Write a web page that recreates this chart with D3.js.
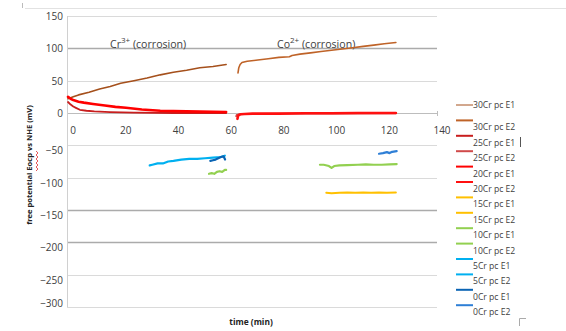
<!DOCTYPE html>
<html><head><meta charset="utf-8">
<script src="https://cdn.jsdelivr.net/npm/d3@7"></script>
<style>
html,body{margin:0;padding:0;background:#fff;}
svg{display:block;font-family:"Open Sans",sans-serif;}
</style></head>
<body>
<svg id="c" width="566" height="331"></svg>
<script>
// ---------------- data ----------------
const seriesNames = ["30Cr pc E1","30Cr pc E2","25Cr pc E1","25Cr pc E2","20Cr pc E1","20Cr pc E2",
  "15Cr pc E1","15Cr pc E2","10Cr pc E1","10Cr pc E2","5Cr pc E1","5Cr pc E2","0Cr pc E1","0Cr pc E2"];
const seriesColors = ["#a5501c","#bf6328","#c81e1e","#d04a4a","#ff0000","#ff1010",
  "#ffc000","#ffc000","#92d050","#92d050","#00b0f0","#00b0f0","#0a64b4","#2e7fd6"];
const xTicks = [0,20,40,60,80,100,120,140];
const yTicks = [150,100,50,0,-50,-100,-150,-200,-250,-300];

const t30E1 = [0,2,4,8,12,16,20,25,30,35,40,45,50,55,60];
const v30E1 = [22,25,28,32,37,41,46,50,54,59,63,66,70,72,75];
const t30E2 = [64.5,64.8,65.3,66,68,72,76,80,84,85,88,92,96,100,104,108,112,116,120,124.4];
const v30E2 = [62,70,75,78,80,82,84,86,87,89,91,93,95,97,99,101,103,105,107,109];
const t25E1 = [0,1,2,3,4.5,7,10,16,25,40,60];
const v25E1 = [17,13,10,8,5,3.5,2.5,1.5,0.5,0,0];
const t25E2 = [63.8,64,65,68,80,100,124.4];
const v25E2 = [-5,-3,-2,-1.5,-1,-1,-0.5];
const t20E1 = [0,1,2,4,6,9.5,14,18,22,28,35,45,60];
const v20E1 = [25,22,20,17.5,16,14,11.5,9.5,8,5.5,3.5,2.5,1.5];
const t20E2 = [64.3,64.5,64.8,65.5,67,70,80,90,100,110,120,124.4];
const v20E2 = [-9,-5,-3,-2,-1.5,-1,-1,-0.5,-0.5,0,0,0];
const t15E1 = [];
const v15E1 = [];
const t15E2 = [98,100,103,106,109,112,115,118,121,124.4];
const v15E2 = [-123.5,-124,-123.5,-123,-123.5,-123,-123.5,-123,-123.3,-123];
const t10E1 = [53.5,54.5,55.5,56.5,57.5,58.5,59.5,60];
const v10E1 = [-94,-93,-94,-91,-90,-91,-88,-88];
const t10E2 = [95.6,97,99,100,101,103,106,110,113,116,119,122,124.7];
const v10E2 = [-80,-80,-82,-85,-82,-81,-80.5,-80,-79.5,-80,-80,-79.5,-79];
const t5E1 = [31,32,34,36,38,40,43,46,49,52,55,58,59.5];
const v5E1 = [-81,-80,-78,-78,-75,-74,-72,-71,-71,-70,-69,-68,-66];
const t5E2 = [];
const v5E2 = [];
const t0E1 = [54,55,56,57,58,59,59.6];
const v0E1 = [-74,-73,-72,-70,-68,-67,-72];
const t0E2 = [118,119.5,121,122,123,124.7];
const v0E2 = [-63,-62,-60.5,-62,-60,-59];

const seriesT = [t30E1,t30E2,t25E1,t25E2,t20E1,t20E2,t15E1,t15E2,t10E1,t10E2,t5E1,t5E2,t0E1,t0E2];
const seriesV = [v30E1,v30E2,v25E1,v25E2,v20E1,v20E2,v15E1,v15E2,v10E1,v10E2,v5E1,v5E2,v0E1,v0E2];
const seriesW = [1.6,1.6,1.8,1.8,2.6,2.6,2,2,2.2,2.2,2.2,2.2,2.2,2.2];

// ---------------- chart ----------------
const svg = d3.select("#c");
const x = d3.scaleLinear().domain([0,140]).range([68,437]);
const y = d3.scaleLinear().domain([-300,150]).range([307,16]);

// artifacts at top / corner
svg.append("line").attr("x1",25).attr("x2",566).attr("y1",8.5).attr("y2",8.5).attr("stroke","#e2e2e2");
svg.append("line").attr("x1",22.5).attr("x2",22.5).attr("y1",3).attr("y2",8).attr("stroke","#bbb");
svg.append("path").attr("d","M519.5,326 V318.5 H526").attr("fill","none").attr("stroke","#aaa");

// gridlines
const darkGrid = new Set([100,-150,-200]);
svg.append("g").selectAll("line").data(yTicks).join("line")
  .attr("x1",67).attr("x2",437)
  .attr("y1",d=>Math.round(y(d))+0.5).attr("y2",d=>Math.round(y(d))+0.5)
  .attr("stroke",d=>d===0?"#bdbdbd":(darkGrid.has(d)?"#ababab":"#dadada"))
  .attr("stroke-width",d=>darkGrid.has(d)?1.3:1);

// vertical axis line
svg.append("line").attr("x1",67.5).attr("x2",67.5).attr("y1",y(150)).attr("y2",y(-300)).attr("stroke","#d0d0d0");

// x axis through y=0
const xAxis = d3.axisBottom(x).tickValues(xTicks).tickSize(0).tickPadding(0);
const gx = svg.append("g").attr("transform",`translate(0,${y(0)})`).call(xAxis);
gx.select(".domain").remove();
gx.selectAll("text").attr("dx",4.5).attr("dy",0).attr("y",21)
  .attr("font-size",10).attr("fill","#404040").attr("font-family","Open Sans");
svg.append("line").attr("x1",437.5).attr("x2",437.5).attr("y1",y(0)-2).attr("y2",y(0)+3).attr("stroke","#bdbdbd");

// y axis labels
const yAxis = d3.axisLeft(y).tickValues(yTicks).tickSize(0).tickPadding(4);
const gy = svg.append("g").attr("transform","translate(67,0)").call(yAxis);
gy.select(".domain").remove();
gy.selectAll("text").attr("font-size",10).attr("fill","#404040").attr("font-family","Open Sans")
  .attr("dy",d=>d>=0?"0.35em":(d===-300?"-0.05em":"0.85em"));

// annotations
function anno(xp, base, sup) {
  const t = svg.append("text").attr("x",xp).attr("y",48).attr("font-size",10.6).attr("fill","#404040")
    .attr("font-family","Open Sans");
  t.append("tspan").text(base);
  t.append("tspan").attr("dy",-5).attr("font-size",8).text(sup);
  t.append("tspan").attr("dy",5).text(" (corrosion)");
}
anno(110,"Cr","3+");
anno(277,"Co","2+");

// series
const line = d3.line().x(d=>x(d[0])).y(d=>y(d[1]));
seriesNames.forEach((n,i)=>{
  const pts = seriesT[i].map((t,j)=>[t,seriesV[i][j]]);
  if (!pts.length) return;
  svg.append("path").datum(pts).attr("d",line).attr("fill","none")
    .attr("stroke",seriesColors[i]).attr("stroke-width",seriesW[i])
    .attr("stroke-linejoin","round").attr("stroke-linecap","round");
});

// legend
const lg = svg.append("g");
seriesNames.forEach((n,i)=>{
  const ly = 105 + i*15.4;
  lg.append("line").attr("x1",456).attr("x2",473).attr("y1",ly).attr("y2",ly)
    .attr("stroke",seriesColors[i]).attr("stroke-width",i===0?1:2);
  lg.append("text").attr("x",473).attr("y",ly + (i===0?0:7)).attr("dy","0.35em")
    .attr("font-size",8.6).attr("fill","#404040").attr("font-family","Open Sans").text(n);
});
// text cursor after 25Cr pc E1
svg.append("line").attr("x1",520.5).attr("x2",520.5).attr("y1",137).attr("y2",147).attr("stroke","#555");

// axis titles
svg.append("text").attr("x",251).attr("y",322).attr("dy","0.35em").attr("text-anchor","middle")
  .attr("font-size",8.4).attr("font-weight","bold").attr("fill","#222").text("time (min)");
svg.append("text").attr("transform","translate(29,165) rotate(-90)").attr("text-anchor","middle")
  .attr("dy","0.35em").attr("font-size",7.6).attr("font-weight","bold").attr("fill","#222")
  .text("free potential Eocp vs NHE  (mV)");
// spell-check wavy underline under "Eocp"
let wz = "M36,171";
for (let k=0;k<10;k++){ wz += ` L${k%2?36:38},${171-2*(k+1)}`; }
svg.append("path").attr("d",wz).attr("fill","none").attr("stroke","#e03030").attr("stroke-width",0.8);
</script>
</body></html>
